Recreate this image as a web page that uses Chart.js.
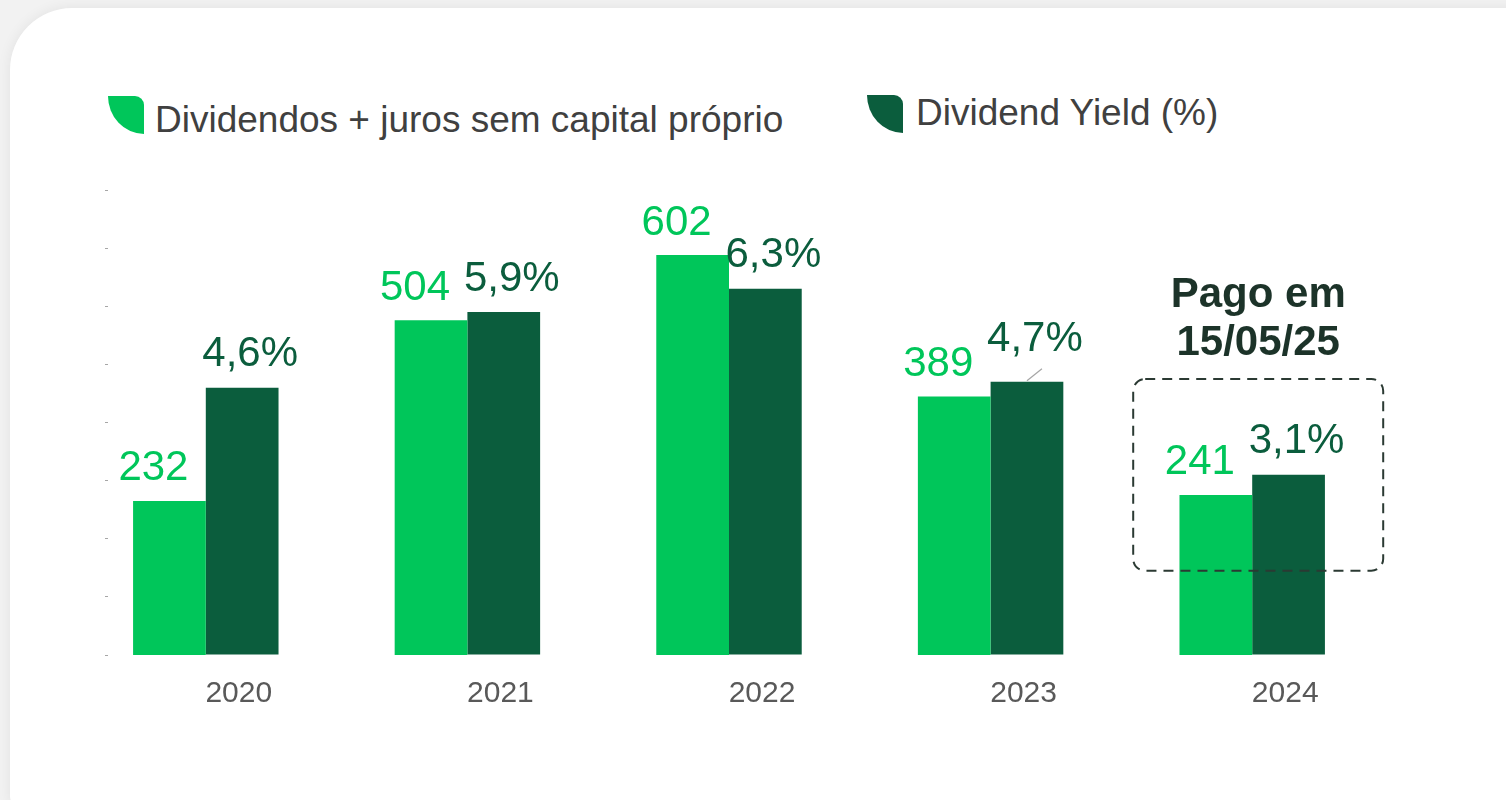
<!DOCTYPE html>
<html lang="pt-BR">
<head>
<meta charset="utf-8">
<title>Dividendos e Dividend Yield</title>
<script src="https://cdn.jsdelivr.net/npm/chart.js@4.4.1/dist/chart.umd.min.js"></script>
<style>
  html, body { margin: 0; padding: 0; }
  body {
    width: 1506px; height: 800px; overflow: hidden;
    background: #f2f2f2;
    font-family: "Liberation Sans", Arial, sans-serif;
    position: relative;
  }
  .card {
    position: absolute; left: 10px; top: 8px; width: 1520px; height: 800px;
    background: #fff;
    border-radius: 62px 0 0 12px;
    box-shadow: 0 0 14px rgba(0,0,0,0.07);
  }
  .leaf {
    position: absolute; width: 36px; height: 38px;
    border-radius: 0 9px 0 100%;
  }
  .legend-text {
    position: absolute; white-space: nowrap;
    font-size: 37px; line-height: 44px; color: #404040;
  }
  #wrap { position: absolute; left: 0; top: 0; width: 1506px; height: 800px; }
</style>
</head>
<body>
<div class="card"></div>

<div class="leaf" style="left:108px; top:96px; background:#00c65a;"></div>
<div class="legend-text" style="left:155px; top:98px;">Dividendos + juros sem capital próprio</div>
<div class="leaf" style="left:867px; top:95px; background:#0b5d3d;"></div>
<div class="legend-text" style="left:916px; top:91px;">Dividend Yield (%)</div>

<div id="wrap"><canvas id="chart" width="1506" height="800"></canvas></div>

<script>
// --- Dados ---
const years = ["2020", "2021", "2022", "2023", "2024"];
const dividends = [232, 504, 602, 389, 241];       // R$ milhões
const dividendYield = [4.6, 5.9, 6.3, 4.7, 3.1];   // %
const paidNote = ["Pago em", "15/05/25"];

const GREEN = "#00c65a";
const DARK = "#0b5d3d";
const FONT = '"Liberation Sans", Arial, sans-serif';

// --- Rótulos de valor acima das barras ---
const valueLabels = {
  id: "valueLabels",
  afterDatasetsDraw(chart) {
    const ctx = chart.ctx;
    ctx.save();
    ctx.font = "42px " + FONT;
    ctx.textAlign = "center";
    ctx.textBaseline = "middle";

    chart.getDatasetMeta(0).data.forEach((bar, i) => {
      ctx.fillStyle = GREEN;
      ctx.fillText(String(dividends[i]), bar.x - 16, bar.y - 32);
    });

    chart.getDatasetMeta(1).data.forEach((bar, i) => {
      const txt = dividendYield[i].toFixed(1).replace(".", ",") + "%";
      let lift = 33;
      if (i === 3) {
        // rótulo deslocado com linha de chamada
        lift = 42;
        ctx.strokeStyle = "#a6a6a6";
        ctx.lineWidth = 1.2;
        ctx.beginPath();
        ctx.moveTo(bar.x, bar.y - 1);
        ctx.lineTo(bar.x + 15, bar.y - 13);
        ctx.stroke();
      }
      ctx.fillStyle = DARK;
      ctx.fillText(txt, bar.x + 8, bar.y - lift);
    });
    ctx.restore();
  }
};

// --- Destaque 2024 (caixa tracejada + nota) ---
const paidBox = {
  id: "paidBox",
  afterDatasetsDraw(chart) {
    const ctx = chart.ctx;
    const xs = chart.scales.x;
    const ys = chart.scales.yYield;
    const cx = xs.getPixelForValue(4);
    const left = cx - 119, right = cx + 131;
    const top = ys.getPixelForValue(4.75), bottom = ys.getPixelForValue(1.45);

    ctx.save();
    ctx.strokeStyle = "#2b3a33";
    ctx.lineWidth = 2;
    ctx.setLineDash([10, 7]);
    ctx.beginPath();
    ctx.roundRect(left, top, right - left, bottom - top, 12);
    ctx.stroke();
    ctx.setLineDash([]);

    ctx.fillStyle = "#1c3329";
    ctx.font = "bold 42px " + FONT;
    ctx.textAlign = "center";
    ctx.textBaseline = "middle";
    ctx.fillText(paidNote[0], cx + 6, 295);
    ctx.fillText(paidNote[1], cx + 6, 343);
    ctx.restore();
  }
};

new Chart(document.getElementById("chart"), {
  type: "bar",
  data: {
    labels: years,
    datasets: [
      {
        label: "Dividendos + juros sem capital próprio",
        data: dividends,
        backgroundColor: GREEN,
        yAxisID: "yDiv",
        categoryPercentage: 0.556,
        barPercentage: 1
      },
      {
        label: "Dividend Yield (%)",
        data: dividendYield,
        backgroundColor: DARK,
        yAxisID: "yYield",
        categoryPercentage: 0.556,
        barPercentage: 1
      }
    ]
  },
  options: {
    responsive: false,
    animation: false,
    layout: { padding: { left: 75, right: 123, top: 190, bottom: 67 } },
    plugins: {
      legend: { display: false },
      tooltip: { enabled: false }
    },
    scales: {
      x: {
        grid: { display: false, drawTicks: false },
        border: { display: false },
        ticks: {
          color: "#595959",
          font: { family: FONT, size: 30 },
          padding: 21,
          labelOffset: 33
        }
      },
      yDiv: {
        display: false,
        min: 0,
        max: 700
      },
      yYield: {
        position: { x: -0.375 },
        min: 0,
        max: 8,
        border: { display: false },
        grid: {
          drawOnChartArea: false,
          drawTicks: true,
          tickLength: 3,
          tickColor: "#a6a6a6"
        },
        ticks: { display: false, stepSize: 1 }
      }
    }
  },
  plugins: [valueLabels, paidBox]
});
</script>
</body>
</html>
